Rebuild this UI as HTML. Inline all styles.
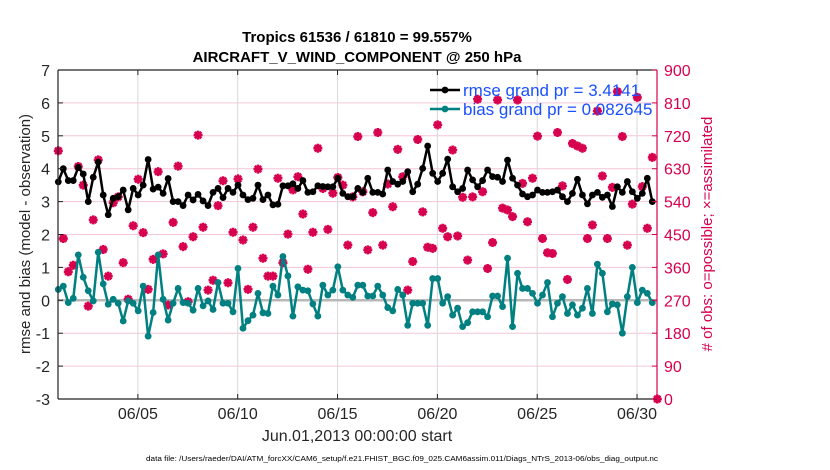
<!DOCTYPE html>
<html><head><meta charset="utf-8"><style>
html,body{margin:0;padding:0;background:#fff}
svg{display:block;font-family:"Liberation Sans",sans-serif}
</style></head><body>
<svg id="chart" width="830" height="470" viewBox="0 0 830 470" xmlns="http://www.w3.org/2000/svg"></svg>
<script>
const rmse=[3.6,4.0,3.64,3.64,4.04,3.84,3.0,3.74,4.2,3.2,2.6,3.1,3.15,3.35,2.75,3.4,3.2,3.5,4.28,3.38,3.44,3.25,3.7,3.0,3.0,2.88,3.2,3.05,3.22,3.02,2.88,3.28,3.4,3.12,3.4,3.28,3.5,3.2,3.06,3.1,3.5,3.06,3.2,2.9,2.92,3.48,3.48,3.54,3.4,3.64,3.28,3.3,3.48,3.46,3.45,3.45,
3.71,3.25,3.15,3.15,3.40,3.28,3.71,3.28,3.28,3.23,3.96,3.61,3.53,3.61,3.91,3.30,3.53,4.01,4.69,3.86,3.61,3.86,4.29,3.45,3.30,3.40,3.96,3.66,3.45,3.64,3.96,3.76,3.74,3.61,4.26,3.71,3.50,3.23,3.15,3.20,3.35,3.28,3.28,3.30,3.35,3.15,3.00,3.25,3.68,3.20,2.93,3.20,3.28,3.13,3.20,2.85,3.45,3.28,3.61,
3.30,3.10,3.25,3.71,3.00];
const bias=[0.33,0.43,-0.07,0.06,1.38,0.70,0.29,-0.02,1.46,0.50,-0.12,0.03,-0.09,-0.63,-0.02,-0.09,-0.32,0.43,-1.09,-0.37,1.38,0.03,-0.60,-0.09,0.36,-0.07,-0.09,-0.30,0.36,-0.17,-0.02,-0.28,0.54,-0.09,-0.09,-0.35,0.97,-0.85,-0.62,-0.45,0.21,-0.38,-0.40,0.43,0.16,1.33,0.74,-0.48,0.41,0.31,0.29,-0.11,-0.48,0.46,0.16,0.31,
1.02,0.31,0.16,0.09,0.46,0.46,0.13,0.13,0.43,0.16,-0.22,-0.32,0.33,0.16,-0.76,-0.09,-0.09,-0.09,-0.76,0.66,0.66,-0.09,0.11,-0.45,-0.24,-0.80,-0.68,-0.35,-0.35,-0.35,-0.50,0.13,0.13,-0.19,1.28,-0.80,0.82,0.36,0.36,0.21,-0.09,0.16,0.54,-0.50,-0.09,0.11,-0.40,-0.14,-0.45,-0.24,0.36,-0.40,1.10,0.82,-0.35,-0.11,-0.14,-1.00,0.11,
1.00,-0.07,0.31,0.21,-0.07];
const nobs=[679,439,348,366,636,585,254,490,654,409,336,537,553,373,273,474,601,455,300,382,622,397,257,483,637,417,266,444,722,470,298,325,529,597,318,456,602,435,300,470,629,385,336,336,604,373,451,572,608,506,355,456,686,576,464,563,
606,585,421,553,718,567,408,510,729,421,588,526,683,608,298,376,710,512,415,412,750,467,444,681,446,552,380,553,820,567,357,428,818,522,517,499,818,590,485,604,719,439,400,398,729,583,327,699,692,686,439,476,788,610,439,579,841,718,421,
533,825,581,467,661,0];
const xTickDays=[4,9,14,19,24,29];
const xTickLabels=["06/05","06/10","06/15","06/20","06/25","06/30"];
const yTicks=[-3,-2,-1,0,1,2,3,4,5,6,7];
const y2Ticks=[0,90,180,270,360,450,540,630,720,810,900];

const svg=document.getElementById('chart');
const NS='http://www.w3.org/2000/svg';
const L=58,R=657,T=70,B=399;
function xDay(d){return L+(R-L)*d/30;}
function yL(v){return B-(v+3)/10*(B-T);}
function yR(v){return B-v/900*(B-T);}
function mk(tag,attrs,parent){const e=document.createElementNS(NS,tag);for(const k in attrs)e.setAttribute(k,attrs[k]);(parent||svg).appendChild(e);return e;}
function txt(s,attrs,parent){const e=mk('text',attrs,parent);e.textContent=s;return e;}

const grid=mk('g',{});


yTicks.forEach(v=>{if(v>-3&&v<7)mk('line',{x1:L,x2:R,y1:yL(v),y2:yL(v),stroke:'#f3c6d8','stroke-width':1},grid);});
xTickDays.forEach(d=>mk('line',{x1:xDay(d),x2:xDay(d),y1:T,y2:B,stroke:'#d8d8d8','stroke-width':1},grid));
const zl=mk('line',{x1:L,x2:R,y1:yL(0),y2:yL(0),stroke:'#b8b8b8','stroke-width':2.5});



const og=mk('g',{stroke:'#d6004f','stroke-width':2.6,fill:'none'});


nobs.forEach((c,i)=>{const x=xDay(i*0.25)+0.3,y=yR(c);
 const p=mk('path',{d:`M${x-4.5},${y}H${x+4.5}M${x},${y-4.5}V${y+4.5}M${x-3.2},${y-3.2}L${x+3.2},${y+3.2}M${x-3.2},${y+3.2}L${x+3.2},${y-3.2}`},og);
 
 });

function series(arr,color,name){
 const g=mk('g',{});
 
 
 const pts=arr.map((v,i)=>[xDay(i*0.25)+0.3,yL(v)]);
 mk('polyline',{points:pts.map(p=>p.join(',')).join(' '),fill:'none',stroke:color,'stroke-width':2.5,'stroke-linejoin':'round'},g);
 pts.forEach(p=>{const c=mk('circle',{cx:p[0],cy:p[1],r:3.4,fill:color},g);
  
  });
}
series(rmse,'#000','rmse-series');
series(bias,'#008080','bias-series');

const ax=mk('g',{});


mk('line',{x1:L,x2:R,y1:T,y2:T,stroke:'#222','stroke-width':1.2},ax);
mk('line',{x1:L,x2:R,y1:B,y2:B,stroke:'#222','stroke-width':1.2},ax);
mk('line',{x1:L,x2:L,y1:T,y2:B,stroke:'#222','stroke-width':1.2},ax);
mk('line',{x1:R,x2:R,y1:T,y2:B,stroke:'#d6004f','stroke-width':1.2},ax);
yTicks.forEach(v=>{const y=yL(v);mk('line',{x1:L,x2:L+5,y1:y,y2:y,stroke:'#222'},ax);
 const t=txt(String(v),{x:L-8,y:y+6,'text-anchor':'end','font-size':16,fill:'#262626'},ax);
 
 });
y2Ticks.forEach(v=>{const y=yR(v);mk('line',{x1:R-5,x2:R,y1:y,y2:y,stroke:'#d6004f'},ax);
 const t=txt(String(v),{x:R+7,y:y+6,'font-size':16,fill:'#d6004f'},ax);
 
 });
xTickDays.forEach((d,i)=>{const x=xDay(d);mk('line',{x1:x,x2:x,y1:B-5,y2:B,stroke:'#222'},ax);mk('line',{x1:x,x2:x,y1:T,y2:T+5,stroke:'#222'},ax);
 const t=txt(xTickLabels[i],{x:x,y:419,'text-anchor':'middle','font-size':16,fill:'#262626'},ax);
 
 });
</script>
<script>
(function(){
const svg=document.getElementById('chart');
const NS='http://www.w3.org/2000/svg';
function t(s,a,name){const e=document.createElementNS(NS,'text');for(const k in a)e.setAttribute(k,a[k]);e.textContent=s;
 
 
 svg.appendChild(e);return e;}
t('Tropics 61536 / 61810 = 99.557%',{x:357,y:42,'text-anchor':'middle','font-size':15,'font-weight':'bold',fill:'#000'},'chart-title');
t('AIRCRAFT_V_WIND_COMPONENT @ 250 hPa',{x:357,y:62,'text-anchor':'middle','font-size':15,'font-weight':'bold',fill:'#000'},'chart-subtitle');
t('Jun.01,2013 00:00:00 start',{x:357,y:441,'text-anchor':'middle','font-size':16,fill:'#262626'},'x-axis-title');
t('data file: /Users/raeder/DAI/ATM_forcXX/CAM6_setup/f.e21.FHIST_BGC.f09_025.CAM6assim.011/Diags_NTrS_2013-06/obs_diag_output.nc',{x:146,y:461,'font-size':7,textLength:512,lengthAdjust:'spacingAndGlyphs',fill:'#000'},'data-file-note');
t('rmse and bias (model - observation)',{x:0,y:0,transform:'translate(30,234) rotate(-90)','text-anchor':'middle','font-size':15,fill:'#262626'},'y-axis-title');
t('# of obs: o=possible; \u00d7=assimilated',{x:0,y:0,transform:'translate(712,234) rotate(-90)','text-anchor':'middle','font-size':15,fill:'#d6004f'},'y2-axis-title');
const lg=[['rmse grand pr = 3.4141','#000',90,'legend-rmse'],['bias grand pr = 0.082645','#008080',109,'legend-bias']];
lg.forEach(l=>{const ln=document.createElementNS(NS,'line');
 ln.setAttribute('x1',430);ln.setAttribute('x2',460);ln.setAttribute('y1',l[2]);ln.setAttribute('y2',l[2]);
 ln.setAttribute('stroke',l[1]);ln.setAttribute('stroke-width',2.5);svg.appendChild(ln);
 const c=document.createElementNS(NS,'circle');c.setAttribute('cx',445);c.setAttribute('cy',l[2]);c.setAttribute('r',3.4);c.setAttribute('fill',l[1]);svg.appendChild(c);
 t(l[0],{x:463,y:l[2]+6,'font-size':17,fill:'#1a50ff'},l[3]);});
})();
</script>
</body></html>
